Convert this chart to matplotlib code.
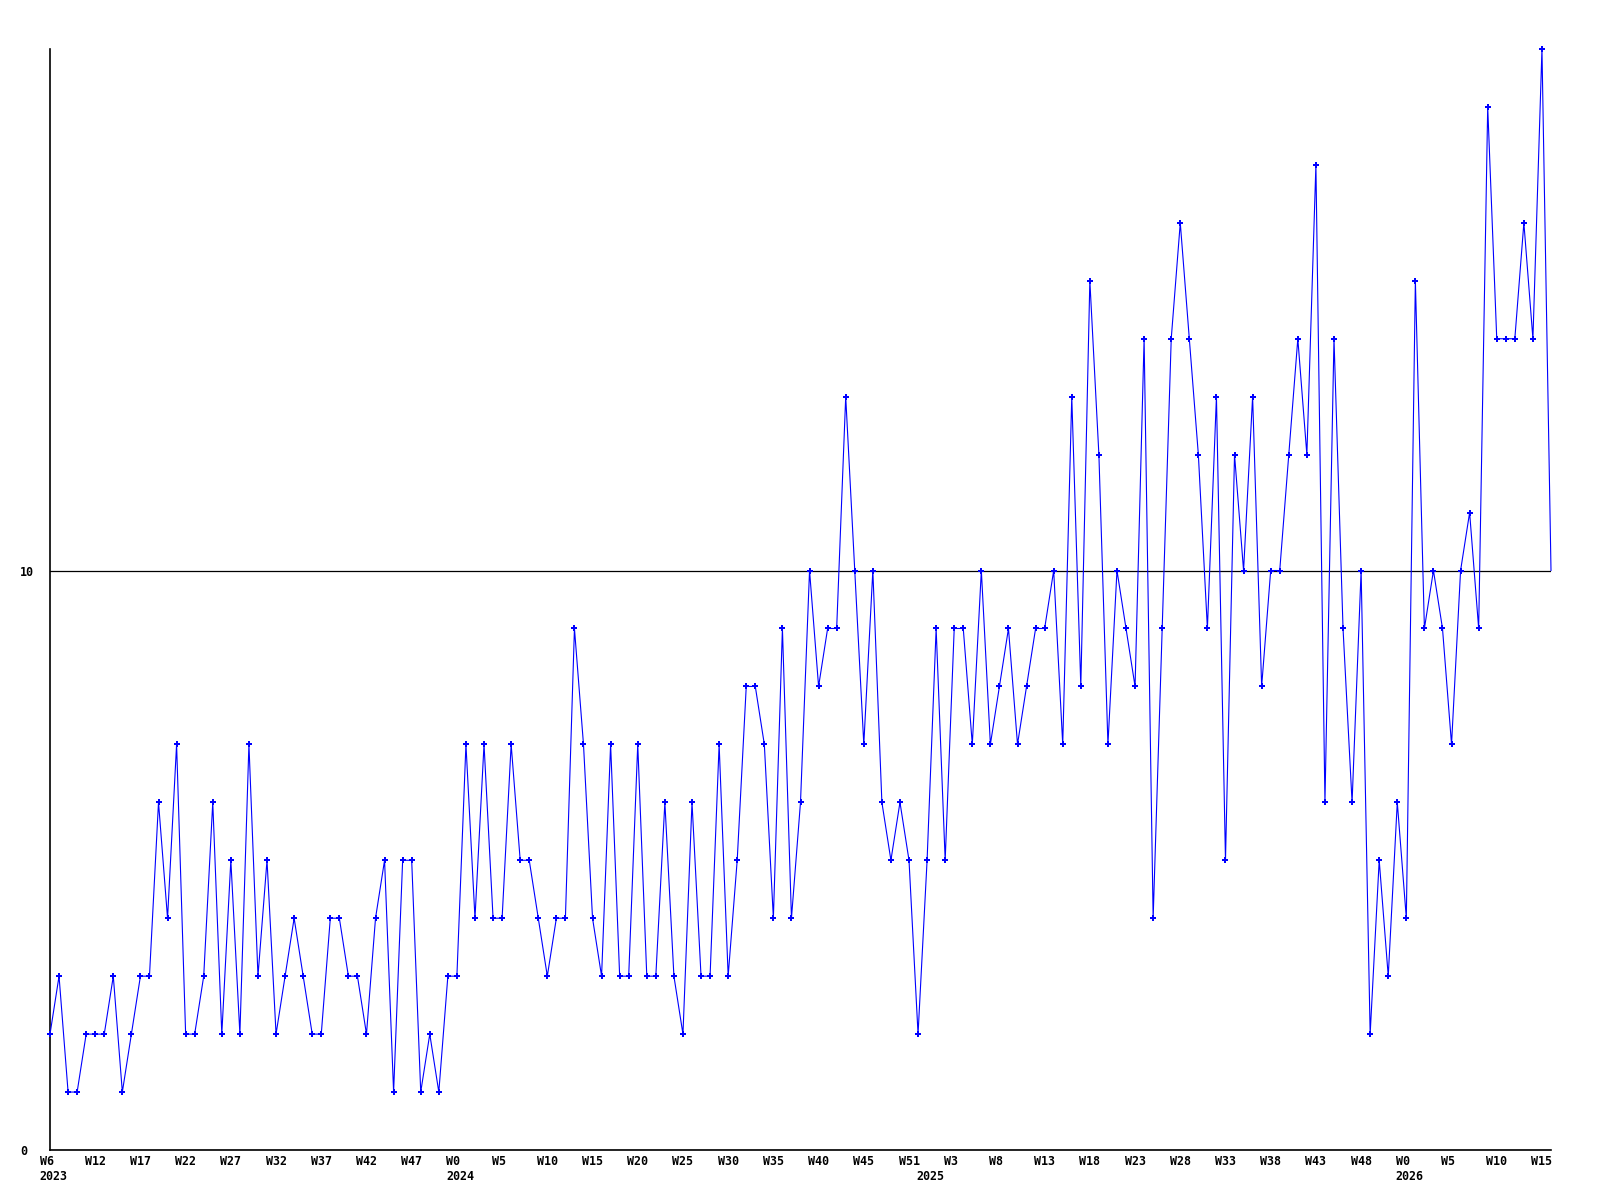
import matplotlib
matplotlib.use("Agg")
import matplotlib.pyplot as plt
import matplotlib.transforms as mtransforms

# weekly counts, one per point
values = [2, 3, 1, 1, 2, 2, 2, 3, 1, 2, 3, 3, 6, 4, 7, 2, 2, 3, 6, 2,
          5, 2, 7, 3, 5, 2, 3, 4, 3, 2, 2, 4, 4, 3, 3, 2, 4, 5, 1, 5,
          5, 1, 2, 1, 3, 3, 7, 4, 7, 4, 4, 7, 5, 5, 4, 3, 4, 4, 9, 7,
          4, 3, 7, 3, 3, 7, 3, 3, 6, 3, 2, 6, 3, 3, 7, 3, 5, 8, 8, 7,
          4, 9, 4, 6, 10, 8, 9, 9, 13, 10, 7, 10, 6, 5, 6, 5, 2, 5, 9, 5,
          9, 9, 7, 10, 7, 8, 9, 7, 8, 9, 9, 10, 7, 13, 8, 15, 12, 7, 10, 9,
          8, 14, 4, 9, 14, 16, 14, 12, 9, 13, 5, 12, 10, 13, 8, 10, 10, 12, 14, 12,
          17, 6, 14, 9, 6, 10, 2, 5, 3, 6, 4, 15, 9, 10, 9, 7, 10, 11, 9, 18,
          14, 14, 14, 16, 14, 19, 10]

week_labels = ["W6", "W12", "W17", "W22", "W27", "W32", "W37", "W42", "W47",
               "W0", "W5", "W10", "W15", "W20", "W25", "W30", "W35", "W40",
               "W45", "W51", "W3", "W8", "W13", "W18", "W23", "W28", "W33",
               "W38", "W43", "W48", "W0", "W5", "W10", "W15"]
week_step = 5

years = ["2023", "2024", "2025", "2026"]
year_start = [0, 45, 97, 150]  # point index where each year begins

font = {"family": "DejaVu Sans Mono", "weight": "bold", "size": 8.4}

fig = plt.figure(figsize=(16, 12), dpi=100)
ax = fig.add_axes([50 / 1600, 1 - 1150 / 1200, 1501 / 1600, 1101 / 1200])

x = list(range(len(values)))
# last point (current, partial week) is drawn without a marker
ax.plot(x, values, color="#0000ff", lw=0.8, marker="P", markersize=4,
        markeredgewidth=0, markevery=list(range(len(values) - 1)), zorder=3,
        clip_on=False)

ax.set_xlim(0, len(values) - 1)
ax.set_ylim(0, max(values))

for s in ["top", "right"]:
    ax.spines[s].set_visible(False)
for s in ["left", "bottom"]:
    ax.spines[s].set_color("black")
    ax.spines[s].set_linewidth(1.2)

# y axis: only 0 and 10, with a line across at 10
ax.set_yticks([0, 10])
ax.set_yticklabels(["0", "10"], **font, ha="left")
ax.tick_params(axis="y", length=0, pad=21.6)
ax.grid(axis="y", color="black", lw=0.9)
ax.set_axisbelow(True)

# x axis labels, left aligned a little before their point
ax.set_xticks([])
offset = mtransforms.ScaledTranslation(-10.5 / 100, 0, fig.dpi_scale_trans)
trans = mtransforms.blended_transform_factory(ax.transData, ax.transAxes) + offset
for i, lab in enumerate(week_labels):
    ax.text(i * week_step, -0.01, lab, transform=trans, ha="left", va="center",
            **font)
for yr, start in zip(years, year_start):
    ax.text(start, -0.0245, yr, transform=trans, ha="left", va="center", **font)

fig.savefig("out.png", dpi=100, facecolor="white")
